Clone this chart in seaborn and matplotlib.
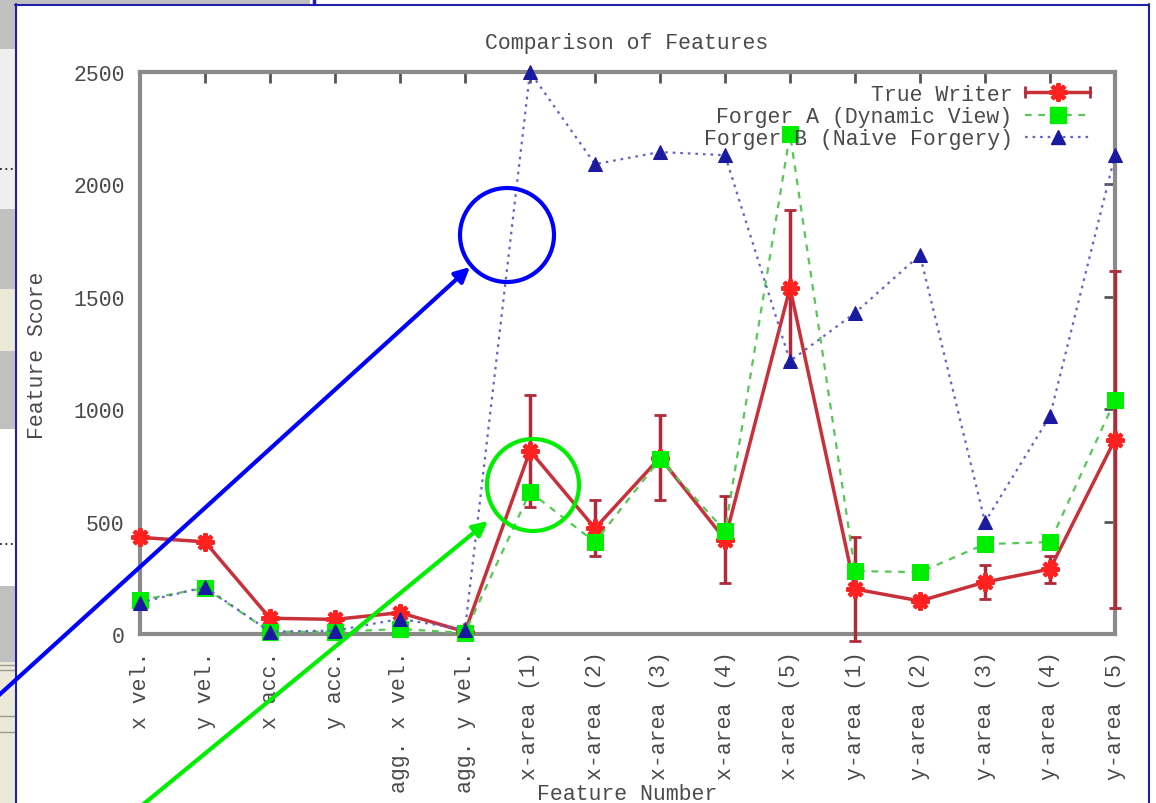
import matplotlib
matplotlib.use("Agg")
import matplotlib.pyplot as plt
from matplotlib.patches import Rectangle, Ellipse, FancyArrowPatch
from matplotlib.lines import Line2D
from matplotlib.legend_handler import HandlerLine2D, HandlerTuple
import numpy as np
import pandas as pd
import seaborn as sns

# ---- data -------------------------------------------------------------
features = ["x vel.", "y vel.", "x acc.", "y acc.", "agg. x vel.", "agg. y vel.",
            "x-area (1)", "x-area (2)", "x-area (3)", "x-area (4)", "x-area (5)",
            "y-area (1)", "y-area (2)", "y-area (3)", "y-area (4)", "y-area (5)"]
true_writer = [430, 410, 70, 65, 95, 10, 815, 470, 785, 420, 1540, 200, 147, 231, 289, 865]
true_writer_err = [20, 20, 12, 12, 15, 5, 250, 125, 190, 195, 345, 230, 20, 75, 60, 750]
forger_a = [150, 205, 10, 10, 22, 5, 632, 409, 778, 458, 2224, 280, 275, 400, 409, 1040]
forger_b = [140, 209, 10, 15, 67, 20, 2500, 2090, 2144, 2130, 1214, 1428, 1686, 498, 970, 2130]
series_names = ["True Writer", "Forger A (Dynamic View)", "Forger B (Naive Forgery)"]
y_ticks = [0, 500, 1000, 1500, 2000, 2500]

pos = np.arange(len(features))
df = pd.DataFrame({
    "pos": np.tile(pos, 3),
    "score": true_writer + forger_a + forger_b,
    "series": np.repeat(series_names, len(features)),
})

# ---- figure -----------------------------------------------------------
W, H = 1156, 804
FONT = "Liberation Mono"
FS = 15.5
TXT = "#4a4a4a"
sns.set_style("white")
plt.rcParams["font.family"] = [FONT, "DejaVu Sans"]

fig = plt.figure(figsize=(W / 100, H / 100), dpi=100)
fig.patch.set_facecolor("white")


def fx(px):
    return px / W


def fy(py):
    return 1 - py / H


# window chrome around the plot
def rect(x0, y0, x1, y1, color, z=0):
    fig.add_artist(Rectangle((fx(x0), fy(y1)), fx(x1) - fx(x0), fy(y0) - fy(y1),
                             transform=fig.transFigure, facecolor=color,
                             edgecolor="none", zorder=z))


GREY, LIGHT, BEIGE = "#c0c0c0", "#efefef", "#ece9d8"
rect(0, 0, 310, 5, GREY)
rect(0, 0, 15, 50, GREY)
rect(0, 50, 15, 210, LIGHT)
rect(0, 210, 15, 290, GREY)
rect(0, 290, 15, 352, BEIGE)
rect(0, 352, 15, 430, GREY)
rect(0, 430, 15, 587, "white")
rect(0, 587, 15, 663, GREY)
rect(0, 663, 15, 804, BEIGE)
for yy in (666, 671, 717, 733):
    fig.add_artist(Line2D([0, fx(15)], [fy(yy), fy(yy)], transform=fig.transFigure,
                          color="#9a9a90", lw=1))
for yy in (170, 545):
    fig.add_artist(Line2D([0, fx(13)], [fy(yy), fy(yy)], transform=fig.transFigure,
                          color="#222222", lw=1.3, linestyle=(0, (1, 2))))
BORDER = "#2020a8"
fig.add_artist(Line2D([fx(15.5), fx(15.5)], [fy(5), 0], transform=fig.transFigure,
                      color=BORDER, lw=1.5))
fig.add_artist(Line2D([fx(15), fx(1149)], [fy(5.5), fy(5.5)], transform=fig.transFigure,
                      color=BORDER, lw=1.5))
fig.add_artist(Line2D([fx(1149), fx(1149)], [fy(5), 0], transform=fig.transFigure,
                      color=BORDER, lw=1.5))
fig.add_artist(Line2D([fx(314), fx(314)], [1, fy(5)], transform=fig.transFigure,
                      color=BORDER, lw=2.5))

# ---- axes -------------------------------------------------------------
L, R, T, B = 140, 1115, 73, 635
ax = fig.add_axes([fx(L), fy(B), fx(R) - fx(L), fy(T) - fy(B)])
ax.set_facecolor("none")

RED_LINE, RED_MK, RED_ERR = "#c8303a", "#ff2020", "#b02a3a"
GREEN_LINE, GREEN_MK = "#55c855", "#00ee00"
BLUE_LINE, BLUE_MK = "#6464c8", "#1a1aa0"

tw = df[df.series == series_names[0]]
fa = df[df.series == series_names[1]]
fb = df[df.series == series_names[2]]

eb = ax.errorbar(pos, true_writer, yerr=true_writer_err, fmt="none", ecolor=RED_ERR,
                 elinewidth=2.5, capsize=4, capthick=2, zorder=2)
for art in eb.lines[1] + eb.lines[2]:
    art.set_clip_on(False)
sns.lineplot(data=tw, x="pos", y="score", ax=ax, color=RED_LINE, lw=2.5,
             marker=(8, 2, 0), markersize=13, markeredgewidth=3,
             markeredgecolor=RED_MK, markerfacecolor=RED_MK,
             errorbar=None, legend=False, zorder=3, clip_on=False)
sns.lineplot(data=fa, x="pos", y="score", ax=ax, color=GREEN_LINE, lw=1.6,
             linestyle=(0, (3, 3)), marker="s", markersize=11,
             markeredgecolor=GREEN_MK, markerfacecolor=GREEN_MK,
             errorbar=None, legend=False, zorder=4, clip_on=False)
sns.lineplot(data=fb, x="pos", y="score", ax=ax, color=BLUE_LINE, lw=1.6,
             linestyle=(0, (1.2, 2.2)), marker="^", markersize=10,
             markeredgecolor=BLUE_MK, markerfacecolor=BLUE_MK,
             errorbar=None, legend=False, zorder=5, clip_on=False)

ax.set_xlim(0, len(features) - 1)
ax.set_ylim(0, 2500)
ax.set_xticks(pos)
ax.set_xticklabels(features, rotation=90, fontsize=FS, color=TXT, family=FONT)
ax.set_yticks(y_ticks)
ax.set_yticklabels([str(v) for v in y_ticks], fontsize=FS, color=TXT, family=FONT)
ax.tick_params(axis="both", direction="in", length=8, width=2, color="#555555",
               top=True, right=True)
ax.tick_params(axis="x", pad=12)
ax.tick_params(axis="y", pad=11)
for sp in ax.spines.values():
    sp.set_visible(True)
    sp.set_color("#8a8a8a")
    sp.set_linewidth(3)
    sp.set_zorder(1)
ax.set_xlabel("")
ax.set_ylabel("")

fig.text(fx(627), fy(43), "Comparison of Features", ha="center", va="center",
         fontsize=FS, color=TXT, family=FONT)
fig.text(fx(627), fy(795), "Feature Number", ha="center", va="center",
         fontsize=FS, color=TXT, family=FONT)
fig.text(fx(38), fy(355), "Feature Score", ha="center", va="center", rotation=90,
         fontsize=FS, color=TXT, family=FONT)

# ---- legend -----------------------------------------------------------
h_red = Line2D([], [], color=RED_LINE, lw=2.5, marker=(8, 2, 0), markersize=13,
               markeredgewidth=3, markeredgecolor=RED_MK)
h_caps = Line2D([], [], color=RED_ERR, lw=0, marker="|", markersize=9,
                markeredgewidth=2)
h_green = Line2D([], [], color=GREEN_LINE, lw=1.6, linestyle=(0, (3, 3)), marker="s",
                 markersize=11, markeredgecolor=GREEN_MK, markerfacecolor=GREEN_MK)
h_blue = Line2D([], [], color=BLUE_LINE, lw=1.6, linestyle=(0, (1.2, 2.2)), marker="^",
                markersize=10, markeredgecolor=BLUE_MK, markerfacecolor=BLUE_MK)
leg = ax.legend([(h_red, h_caps), h_green, h_blue], series_names,
                handler_map={h_caps: HandlerLine2D(numpoints=2, marker_pad=0.0),
                             tuple: HandlerTuple(ndivide=1, pad=0)},
                loc="upper right", bbox_to_anchor=(fx(1090), fy(85)),
                bbox_transform=fig.transFigure, frameon=False, markerfirst=False,
                numpoints=1, handlelength=3.0, handletextpad=0.6, labelspacing=0.05,
                borderpad=0, borderaxespad=0,
                prop={"family": FONT, "size": FS})
for t in leg.get_texts():
    t.set_color(TXT)

# ---- callouts ---------------------------------------------------------
def circle(cx, cy, r, color):
    fig.add_artist(Ellipse((fx(cx), fy(cy)), 2 * r / W, 2 * r / H,
                           transform=fig.transFigure, facecolor="none",
                           edgecolor=color, lw=3, zorder=10))


def arrow(x0, y0, x1, y1, color):
    fig.add_artist(FancyArrowPatch((fx(x0), fy(y0)), (fx(x1), fy(y1)),
                                   transform=fig.transFigure, arrowstyle="-|>",
                                   mutation_scale=22, color=color, lw=3, zorder=10,
                                   shrinkA=0, shrinkB=0))


circle(507, 236, 47, "#0000ff")
arrow(-2, 697, 470, 268, "#0000ff")
circle(533, 486, 46, "#00ee00")
arrow(140, 808, 488, 522, "#00ee00")

fig.savefig("out.png", dpi=100)
